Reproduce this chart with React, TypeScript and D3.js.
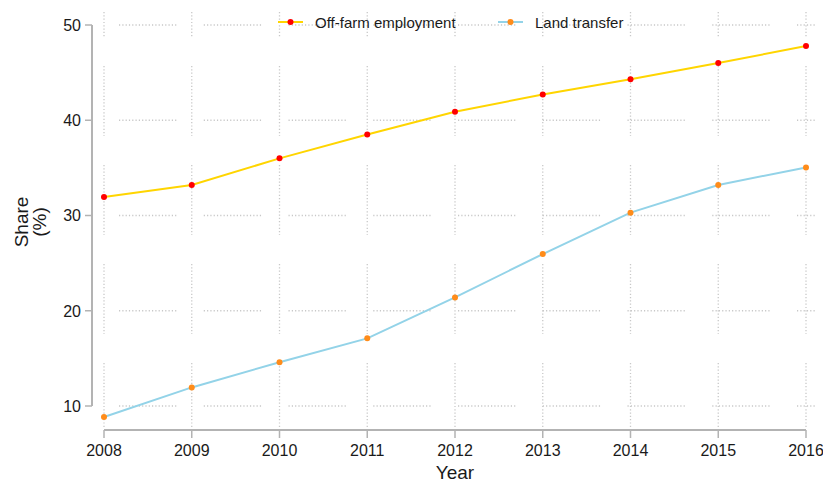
import React from "react";
import * as d3 from "d3";

const years = [2008, 2009, 2010, 2011, 2012, 2013, 2014, 2015, 2016];
const offFarm = [31.95, 33.2, 36.0, 38.5, 40.9, 42.7, 44.3, 46.0, 47.8];
const landTransfer = [8.85, 11.95, 14.6, 17.1, 21.4, 25.95, 30.3, 33.2, 35.05];
const yTicks = [10, 20, 30, 40, 50];
const seriesNames = ["Off-farm employment", "Land transfer"];

const W = 823, H = 482;
const FONT = "'Liberation Sans', Arial, sans-serif";
const GRID = "#c8c8c8";
const AXIS = "#b3b3b3";

export default function App() {
  const x = d3.scaleLinear().domain([2008, 2016]).range([104, 806]);
  const y = d3.scaleLinear().domain([10, 50]).range([406, 25]);
  const line = d3.line<number>()
    .x((_, i) => x(years[i]))
    .y((d) => y(d))
    .curve(d3.curveLinear);

  const series = [
    { name: seriesNames[0], values: offFarm, line: "#FFD500", marker: "#FF0000" },
    { name: seriesNames[1], values: landTransfer, line: "#93D3E8", marker: "#FF8C1A" },
  ];

  // grid segments (dotted dashes)
  const vTop = 12, vBot = 427;
  const vSegs: [number, number][] = [];
  for (let s = -33; s < vBot; s += 99) {
    const a = Math.max(s, vTop), b = Math.min(s + 70, vBot);
    if (b > a) vSegs.push([a, b]);
  }
  const hLeft = 104, hRight = 815;
  const hSegs: [number, number][] = [];
  for (let s = 119; s < hRight; s += 84.75) {
    const a = Math.max(s, hLeft), b = Math.min(s + 59, hRight);
    if (b > a) hSegs.push([a, b]);
  }

  return (
    <svg width={W} height={H} style={{ position: "absolute", left: 0, top: 0, background: "#fff" }}
      fontFamily={FONT}>
      {/* grid */}
      <g stroke={GRID} strokeWidth={1.3} strokeDasharray="1.2 2.1">
        {years.map((yr) =>
          vSegs.map(([a, b], j) => (
            <line key={`v${yr}-${j}`} x1={x(yr)} x2={x(yr)} y1={a} y2={b} />
          ))
        )}
        {yTicks.map((t) =>
          hSegs.map(([a, b], j) => (
            <line key={`h${t}-${j}`} x1={a} x2={b} y1={y(t)} y2={y(t)} />
          ))
        )}
      </g>

      {/* y axis */}
      <line x1={92} x2={92} y1={y(50)} y2={y(10)} stroke={AXIS} strokeWidth={2} />
      {yTicks.map((t) => (
        <g key={`yt${t}`}>
          <line x1={85} x2={92} y1={y(t)} y2={y(t)} stroke={AXIS} strokeWidth={1.5} />
          <text x={81} y={y(t)} dy="0.36em" textAnchor="end" fontSize={16} fill="#1a1a1a">{t}</text>
        </g>
      ))}

      {/* x axis */}
      <line x1={x(2008)} x2={x(2016)} y1={430} y2={430} stroke={AXIS} strokeWidth={2} />
      {years.map((yr) => (
        <g key={`xt${yr}`}>
          <line x1={x(yr)} x2={x(yr)} y1={430} y2={438} stroke={AXIS} strokeWidth={1.5} />
          <text x={x(yr)} y={456} textAnchor="middle" fontSize={16} fill="#1a1a1a">{yr}</text>
        </g>
      ))}

      {/* axis titles */}
      <text x={455} y={479} textAnchor="middle" fontSize={19} fill="#1a1a1a">Year</text>
      <text transform="translate(28,222) rotate(-90)" textAnchor="middle" fontSize={19} fill="#1a1a1a">Share</text>
      <text transform="translate(46,222) rotate(-90)" textAnchor="middle" fontSize={19} fill="#1a1a1a">(%)</text>

      {/* series */}
      {series.map((s) => (
        <g key={s.name}>
          <path d={line(s.values) || ""} fill="none" stroke={s.line} strokeWidth={2} />
          {s.values.map((v, i) => (
            <circle key={i} cx={x(years[i])} cy={y(v)} r={3} fill={s.marker} />
          ))}
        </g>
      ))}

      {/* legend */}
      {series.map((s, i) => {
        const lx = i === 0 ? 278 : 498;
        return (
          <g key={`lg${i}`}>
            <line x1={lx} x2={lx + 25} y1={22} y2={22} stroke={s.line} strokeWidth={2} />
            <circle cx={lx + 12.5} cy={22} r={3} fill={s.marker} />
            <text x={lx + 37} y={27.5} fontSize={15} fill="#1a1a1a">{s.name}</text>
          </g>
        );
      })}
    </svg>
  );
}
